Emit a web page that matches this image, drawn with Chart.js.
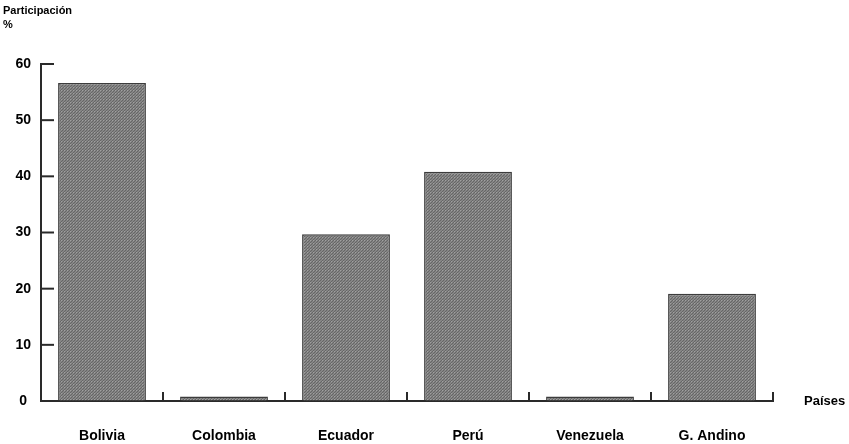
<!DOCTYPE html>
<html>
<head>
<meta charset="utf-8">
<script src="https://cdn.jsdelivr.net/npm/chart.js@4/dist/chart.umd.min.js"></script>
<style>
  html, body { margin: 0; padding: 0; background: #fff; }
  #wrap { width: 849px; height: 444px; position: relative; }
</style>
</head>
<body>
<div id="wrap"><canvas id="chart" width="849" height="444"></canvas></div>
<script>
// Participación por país (%)
const paises = ['Bolivia', 'Colombia', 'Ecuador', 'Perú', 'Venezuela', 'G. Andino'];
const participacion = [56.6, 0.8, 29.7, 40.8, 0.8, 19.1];
const yTicks = [0, 10, 20, 30, 40, 50, 60];

// dotted grey texture like the scanned bars
function makePattern() {
    const c = document.createElement('canvas');
    c.width = 3; c.height = 3;
    const g = c.getContext('2d');
    g.fillStyle = '#858585';
    g.fillRect(0, 0, 3, 3);
    g.fillStyle = '#666';
    g.fillRect(0, 0, 1, 1);
    g.fillRect(2, 1, 1, 1);
    g.fillRect(1, 2, 1, 1);
    g.fillStyle = '#a0a0a0';
    g.fillRect(1, 0, 1, 1);
    return g.createPattern(c, 'repeat');
}

const font = 'Liberation Sans, Arial, sans-serif';

// inner ticks + side labels
const extras = {
    id: 'extras',
    afterDraw(chart) {
        const ctx = chart.ctx;
        const x = chart.scales.x, y = chart.scales.y;
        const area = chart.chartArea;
        ctx.save();
        ctx.strokeStyle = '#2a2a2a';
        ctx.lineWidth = 2;
        // y ticks pointing inward
        yTicks.forEach(v => {
            if (v === 0) return;
            const py = y.getPixelForValue(v);
            ctx.beginPath();
            ctx.moveTo(area.left, py);
            ctx.lineTo(area.left + 13, py);
            ctx.stroke();
        });
        // x ticks between categories, pointing up
        for (let i = 0; i < paises.length; i++) {
            const px = i < paises.length - 1
                ? (x.getPixelForValue(i) + x.getPixelForValue(i + 1)) / 2
                : area.right;
            ctx.beginPath();
            ctx.moveTo(px, area.bottom);
            ctx.lineTo(px, area.bottom - 9);
            ctx.stroke();
        }
        ctx.fillStyle = '#000';
        ctx.font = 'bold 11px ' + font;
        ctx.textBaseline = 'middle';
        ctx.textAlign = 'left';
        ctx.fillText('Participación', 3, 11);
        ctx.fillText('%', 3, 25);
        ctx.font = 'bold 13px ' + font;
        ctx.fillText('Países', 804, area.bottom);
        ctx.restore();
    }
};

new Chart(document.getElementById('chart'), {
    type: 'bar',
    data: {
        labels: paises,
        datasets: [{
            data: participacion,
            backgroundColor: makePattern(),
            borderColor: '#3c3c3c',
            borderWidth: 1.5,
            categoryPercentage: 1,
            barPercentage: 0.72
        }]
    },
    options: {
        responsive: false,
        animation: false,
        devicePixelRatio: 1,
        layout: { padding: { top: 64, right: 76, left: 0, bottom: 0 } },
        plugins: { legend: { display: false }, tooltip: { enabled: false } },
        scales: {
            x: {
                grid: { display: false, drawTicks: false },
                border: { color: '#2a2a2a', width: 2 },
                ticks: {
                    color: '#000',
                    padding: 27,
                    font: { family: font, size: 14, weight: 'bold' },
                    maxRotation: 0
                },
                afterFit(s) { s.height = 43; }
            },
            y: {
                min: 0,
                max: 60,
                afterBuildTicks(s) { s.ticks = yTicks.map(v => ({ value: v })); },
                grid: { drawOnChartArea: false, drawTicks: false },
                border: { color: '#2a2a2a', width: 2 },
                ticks: {
                    color: '#000',
                    padding: 10,
                    crossAlign: 'center',
                    font: { family: font, size: 14, weight: 'bold' }
                },
                afterFit(s) { s.width = 41; }
            }
        }
    },
    plugins: [extras]
});
</script>
</body>
</html>
